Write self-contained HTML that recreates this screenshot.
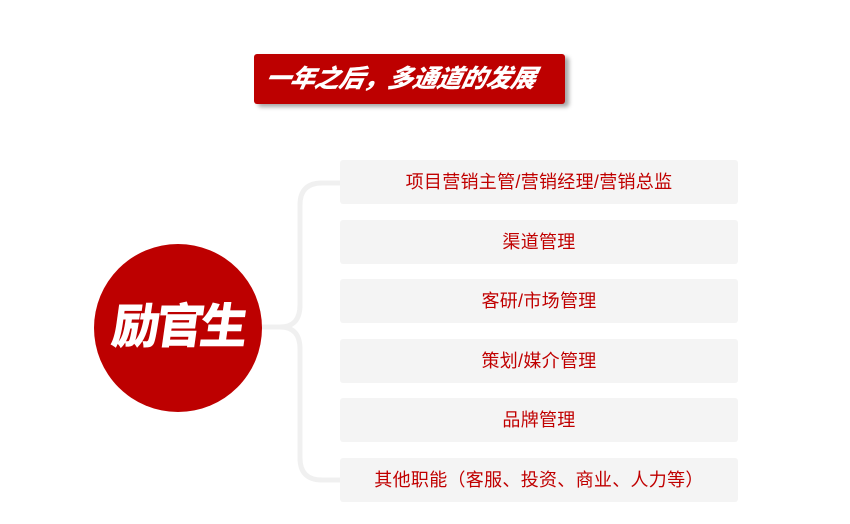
<!DOCTYPE html>
<html><head><meta charset="utf-8"><style>
body{margin:0;width:850px;height:524px;background:#fff;position:relative;overflow:hidden;font-family:"Liberation Sans","Noto Sans CJK SC",sans-serif}
.title{position:absolute;left:254px;top:54px;width:311px;height:50px;background:#bd0000;border-radius:3px;box-shadow:4px 3px 4px rgba(0,0,0,.35);color:#fff;font-weight:900;font-style:italic;font-size:25px;line-height:50px;text-indent:6px;letter-spacing:-0.5px;white-space:nowrap}
.title span{display:inline-block;transform:skewX(-12deg)}
.circle{position:absolute;left:94px;top:244px;width:168px;height:168px;border-radius:50%;background:#bd0000;color:#fff;font-weight:900;font-size:48px;line-height:168px;text-align:center;letter-spacing:-4px}
.circle span{display:inline-block;transform:skewX(-8deg)}
.box{position:absolute;left:340px;width:398px;height:44px;background:#f4f4f4;border-radius:3px;color:#c00000;font-size:18px;letter-spacing:0.3px;line-height:44px;text-align:center}
</style></head><body>
<svg width="850" height="524" style="position:absolute;left:0;top:0">
<path d="M258 327 H280 Q300 327 300 305 V205 Q300 183 322 183 H340 M280 327 Q300 327 300 349 V458 Q300 480 322 480 H340" fill="none" stroke="#f0f0f0" stroke-width="5"/>
</svg>
<div class="title"><span>一年之后，多通道的发展</span></div>
<div class="circle"><span>励官生</span></div>
<div class="box" style="top:160px">项目营销主管/营销经理/营销总监</div>
<div class="box" style="top:220px">渠道管理</div>
<div class="box" style="top:279px">客研/市场管理</div>
<div class="box" style="top:339px">策划/媒介管理</div>
<div class="box" style="top:398px">品牌管理</div>
<div class="box" style="top:458px">其他职能（客服、投资、商业、人力等）</div>
</body></html>
